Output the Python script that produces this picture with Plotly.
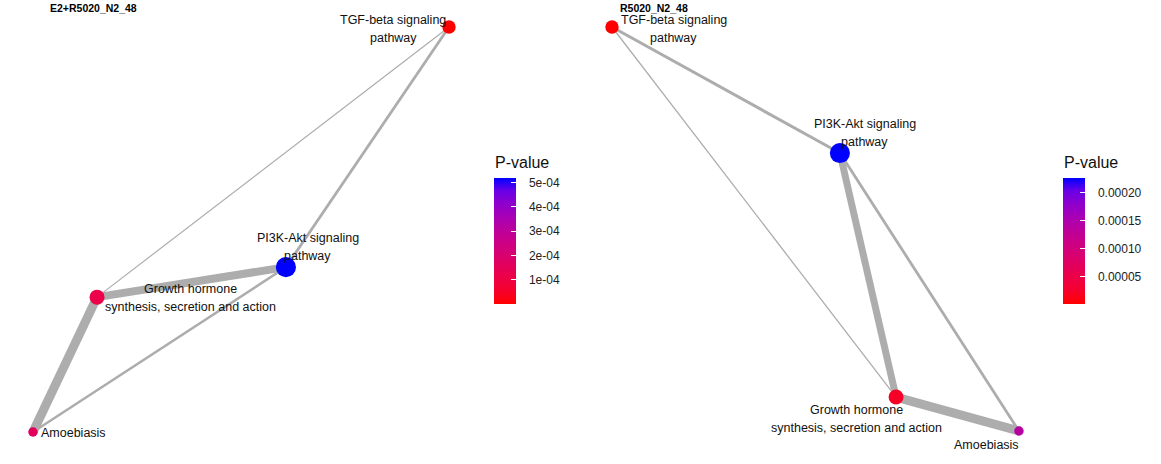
import numpy as np
import plotly.graph_objs as go

# pathway nodes (shared by both panels)
pathways = ["TGF-beta signaling\npathway", "PI3K-Akt signaling\npathway",
            "Growth hormone\nsynthesis, secretion and action", "Amoebiasis"]
gene_counts = [4, 9, 5, 2]

# E2+R5020_N2_48: layout coordinates and p-values
left_x = [1.000, 0.608, 0.154, 0.000]
left_y = [1.000, 0.407, 0.333, 0.000]
left_p = [1.5e-6, 5.18e-4, 1.15e-4, 1.55e-4]
left_edges = [(0, 2), (0, 1), (2, 1), (2, 3), (3, 1)]
left_weights = [0.12, 0.28, 0.80, 0.90, 0.25]

# R5020_N2_48
right_x = [0.000, 0.560, 0.698, 1.000]
right_y = [1.000, 0.688, 0.084, 0.000]
right_p = [5e-7, 2.26e-4, 2.2e-5, 1.38e-4]
right_edges = [(0, 1), (0, 2), (1, 2), (1, 3), (2, 3)]
right_weights = [0.30, 0.13, 0.70, 0.28, 0.90]

left_ticks = [1e-4, 2e-4, 3e-4, 4e-4, 5e-4]
left_ticktext = ["1e-04", "2e-04", "3e-04", "4e-04", "5e-04"]
right_ticks = [5e-5, 1e-4, 1.5e-4, 2e-4]
right_ticktext = ["0.00005", "0.00010", "0.00015", "0.00020"]


def hex_to_lab(h):
    rgb = np.array([int(h[i:i + 2], 16) for i in (1, 3, 5)]) / 255.0
    lin = np.where(rgb <= 0.04045, rgb / 12.92, ((rgb + 0.055) / 1.055) ** 2.4)
    m = np.array([[0.4124, 0.3576, 0.1805], [0.2126, 0.7152, 0.0722], [0.0193, 0.1192, 0.9505]])
    xyz = m @ lin / np.array([0.95047, 1.0, 1.08883])
    f = np.where(xyz > 0.008856, np.cbrt(xyz), 7.787 * xyz + 16 / 116)
    return np.array([116 * f[1] - 16, 500 * (f[0] - f[1]), 200 * (f[1] - f[2])])


def lab_to_rgb(lab):
    fy = (lab[0] + 16) / 116
    fx = fy + lab[1] / 500
    fz = fy - lab[2] / 200
    f = np.array([fx, fy, fz])
    xyz = np.where(f ** 3 > 0.008856, f ** 3, (f - 16 / 116) / 7.787) * np.array([0.95047, 1.0, 1.08883])
    m = np.array([[3.2406, -1.5372, -0.4986], [-0.9689, 1.8758, 0.0415], [0.0557, -0.2040, 1.0570]])
    lin = np.clip(m @ xyz, 0, 1)
    rgb = np.where(lin <= 0.0031308, 12.92 * lin, 1.055 * lin ** (1 / 2.4) - 0.055)
    r, g, b = (np.clip(rgb, 0, 1) * 255).round().astype(int)
    return f"rgb({r},{g},{b})"


# ggplot-like red -> blue gradient, interpolated in Lab
lo, hi = hex_to_lab("#FF0000"), hex_to_lab("#0000FF")
scale = [[t, lab_to_rgb(lo + (hi - lo) * t)] for t in np.linspace(0, 1, 11)]

fig = go.Figure()
font = "Liberation Sans, Arial, sans-serif"


def add_panel(xs, ys, pvals, edges, weights, n):
    xa = "x" if n == 1 else f"x{n}"
    ya = "y" if n == 1 else f"y{n}"
    for (a, b), w in zip(edges, weights):
        fig.add_trace(go.Scatter(x=[xs[a], xs[b]], y=[ys[a], ys[b]], mode="lines",
                                 line=dict(color="#ADADAD", width=w * 10),
                                 xaxis=xa, yaxis=ya, showlegend=False, hoverinfo="skip"))
    fig.add_trace(go.Scatter(x=xs, y=ys, mode="markers", text=pathways,
                             marker=dict(size=[6.7 * np.sqrt(c) for c in gene_counts], opacity=1,
                                         color=pvals, coloraxis="coloraxis" if n == 1 else f"coloraxis{n}",
                                         line=dict(width=0)),
                             xaxis=xa, yaxis=ya, showlegend=False))


add_panel(left_x, left_y, left_p, left_edges, left_weights, 1)
add_panel(right_x, right_y, right_p, right_edges, right_weights, 2)

# label offsets in pixels (x shift, y shift of block centre, anchor)
left_off = [(-56, -2, "center"), (22, 20, "center"), (93, -1, "center"), (6, -1, "left")]
right_off = [(62, -2, "center"), (25, 20, "center"), (-40, -22, "center"), (-32, -14, "center")]

for xs, ys, offs, n in [(left_x, left_y, left_off, 1), (right_x, right_y, right_off, 2)]:
    xa = "x" if n == 1 else f"x{n}"
    ya = "y" if n == 1 else f"y{n}"
    for name, x, y, (dx, dy, anchor) in zip(pathways, xs, ys, offs):
        lines = name.split("\n")
        for i, line in enumerate(lines):
            shift = dy + 9 * (len(lines) - 1) - 18 * i
            fig.add_annotation(x=x, y=y, xref=xa, yref=ya, text=line, showarrow=False,
                               xshift=dx, yshift=shift, xanchor=anchor,
                               font=dict(size=12.5, color="#111111", family=font))

for title, px in [("E2+R5020_N2_48", 48), ("R5020_N2_48", 618)]:
    fig.add_annotation(x=px / 1161, y=0.983, xref="paper", yref="paper", text=f"<b>{title}</b>",
                       showarrow=False, xanchor="left", yanchor="middle",
                       font=dict(size=10.5, color="black", family=font))

# legend titles
for px in [493, 1062]:
    fig.add_annotation(x=px / 1161, y=1 - 163 / 464, xref="paper", yref="paper", text="P-value",
                       showarrow=False, xanchor="left", yanchor="middle",
                       font=dict(size=16, color="#111111", family=font))


def cbar(x, vals, text):
    return dict(x=x, xanchor="left", xpad=0, y=1 - 241 / 464, yanchor="middle", ypad=0,
                len=126, lenmode="pixels", thickness=22, thicknessmode="pixels",
                outlinewidth=0, ticks="inside", ticklen=5, tickcolor="white",
                tickvals=vals, ticktext=["&nbsp;&nbsp;&nbsp;" + t for t in text],
                tickfont=dict(size=12, color="#222222", family=font))


fig.update_layout(
    width=1161, height=464, margin=dict(l=0, r=0, t=0, b=0),
    plot_bgcolor="white", paper_bgcolor="white",
    coloraxis=dict(colorscale=scale, cmin=min(left_p), cmax=max(left_p),
                   colorbar=cbar(494 / 1161, left_ticks, left_ticktext)),
    coloraxis2=dict(colorscale=scale, cmin=min(right_p), cmax=max(right_p),
                    colorbar=cbar(1063 / 1161, right_ticks, right_ticktext)),
    xaxis=dict(domain=[0, 580 / 1161], range=[-0.0793, 1.3149], visible=False),
    yaxis=dict(domain=[0, 1], range=[-0.079, 1.0667], visible=False),
    xaxis2=dict(domain=[580 / 1161, 1], range=[-0.0786, 1.349], visible=False),
    yaxis2=dict(domain=[0, 1], range=[-0.0817, 1.0668], visible=False, anchor="x2"),
)

fig.write_html("out.html", config={"displayModeBar": False},
               post_script="document.body.style.margin='0';")
